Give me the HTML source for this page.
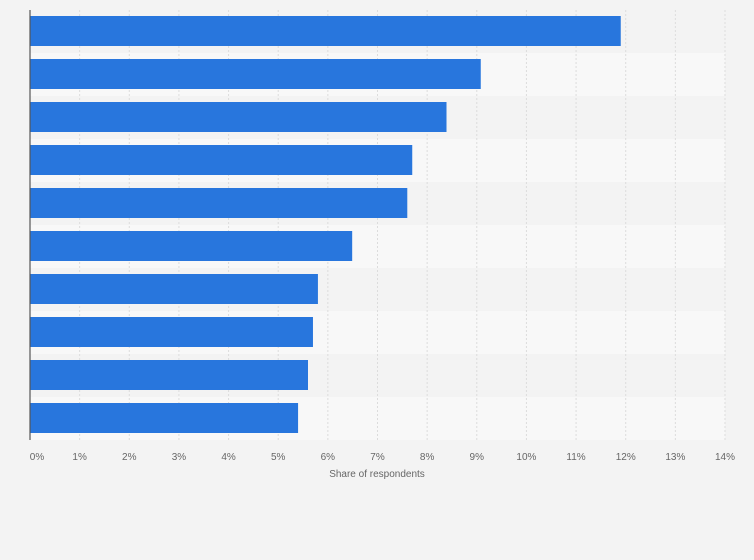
<!DOCTYPE html>
<html><head><meta charset="utf-8"><style>
html,body{margin:0;padding:0;background:#f3f3f3;}
svg{display:block;font-family:"Liberation Sans",sans-serif;}
</style></head><body>
<svg id="chart" width="754" height="560"></svg>
<script>
const categories=["Item 1","Item 2","Item 3","Item 4","Item 5","Item 6","Item 7","Item 8","Item 9","Item 10"];
const values=[11.9,9.08,8.39,7.7,7.6,6.49,5.8,5.7,5.6,5.4];
const tickValues=[0,1,2,3,4,5,6,7,8,9,10,11,12,13,14];
const tickLabels=["0%","1%","2%","3%","4%","5%","6%","7%","8%","9%","10%","11%","12%","13%","14%"];
const NS="http://www.w3.org/2000/svg";
const svg=document.getElementById('chart');
const x0=30,x1=725,y0=10,rowH=43,xMax=14;
const xs=v=>x0+(x1-x0)*v/xMax;
const ys=i=>y0+i*rowH;
function mk(t,a){const e=document.createElementNS(NS,t);for(const k in a)e.setAttribute(k,a[k]);svg.appendChild(e);return e;}
categories.forEach((c,i)=>{
  const r=mk('rect',{x:x0,y:ys(i),width:x1-x0,height:rowH,fill:i%2?'#f8f8f8':'#f3f3f3'});
  
  
});
tickValues.forEach((v,i)=>{
  const l=mk('line',{x1:xs(v),x2:xs(v),y1:y0,y2:ys(categories.length),stroke:'#dcdcdc','stroke-dasharray':'2,2'});
  
  
  const t=mk('text',{x:i===0?xs(v)+7:xs(v),y:460,'text-anchor':'middle','font-size':10,fill:'#666'});
  t.textContent=tickLabels[i];
  
  
});
categories.forEach((c,i)=>{
  const b=mk('rect',{x:x0,y:ys(i)+6,width:xs(values[i])-x0,height:30,fill:'#2876dd'});
  
  
});
const ax=mk('line',{x1:x0,x2:x0,y1:y0,y2:ys(categories.length),stroke:'#555','stroke-width':1.2});


const tt=mk('text',{x:377,y:477,'text-anchor':'middle','font-size':10,fill:'#666'});
tt.textContent='Share of respondents';


</script>
</body></html>
